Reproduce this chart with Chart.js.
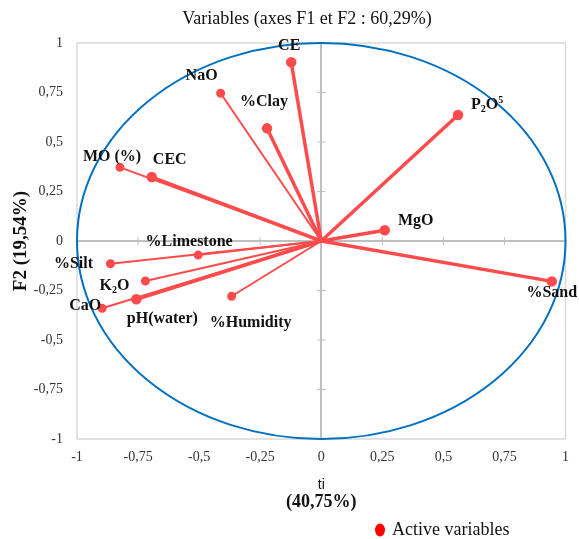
<!DOCTYPE html>
<html>
<head>
<meta charset="utf-8">
<script src="https://cdn.jsdelivr.net/npm/chart.js@4/dist/chart.umd.min.js"></script>
<style>
  html, body { margin: 0; padding: 0; background: #fff; }
  #wrap { width: 579px; height: 539px; }
</style>
</head>
<body>
<div id="wrap"><canvas id="pca"></canvas></div>
<script>
// correlation circle, variables on F1 / F2
var variables = ['CE', 'NaO', '%Clay', 'P_{2}O^{5}', 'MO (%)', 'CEC', 'MgO', '%Limestone', '%Silt', 'K_{2}O', 'pH(water)', 'CaO', '%Humidity', '%Sand'];
var f1 = [-0.123, -0.412, -0.222, 0.560, -0.824, -0.694, 0.260, -0.504, -0.863, -0.720, -0.757, -0.897, -0.367, 0.944];
var f2 = [0.903, 0.746, 0.569, 0.636, 0.372, 0.323, 0.054, -0.071, -0.115, -0.202, -0.294, -0.340, -0.279, -0.204];
var axisTicks = [-1, -0.75, -0.5, -0.25, 0, 0.25, 0.5, 0.75, 1];

// label offsets from the arrow tip (px) and line weights
var labelDx = [-2, -19, -3, 29, -8, 18, 31, -9, -37, -31, 26, -17, 19, 0];
var labelDy = [-16, -17, -26, -10, -10, -17, -9, -13, 0, 5, 20, -2, 27, 11];
var thick = ['CE', '%Clay', 'P_{2}O^{5}', 'CEC', 'MgO', '%Sand', 'pH(water)'];

var RED = '#ff4b4b';
var SERIF = '"Liberation Serif", "Times New Roman", serif';

function drawRich(ctx, str, cx, cy, size) {
  var parts = [];
  var re = /([_^])\{([^}]*)\}|([^_^]+)/g, m;
  while ((m = re.exec(str)) !== null) {
    if (m[3]) parts.push({ t: m[3], k: '' });
    else parts.push({ t: m[2], k: m[1] });
  }
  var total = 0;
  parts.forEach(function (p) {
    p.s = p.k ? Math.round(size * 0.65) : size;
    ctx.font = 'bold ' + p.s + 'px ' + SERIF;
    p.w = ctx.measureText(p.t).width;
    total += p.w;
  });
  var x = cx - total / 2;
  ctx.textAlign = 'left';
  ctx.textBaseline = 'middle';
  parts.forEach(function (p) {
    ctx.font = 'bold ' + p.s + 'px ' + SERIF;
    var y = cy;
    if (p.k === '_') y = cy + size * 0.28;
    if (p.k === '^') y = cy - size * 0.3;
    ctx.fillText(p.t, x, y);
    x += p.w;
  });
}

var datasets = variables.map(function (name, i) {
  return {
    label: name,
    data: [{ x: 0, y: 0 }, { x: f1[i], y: f2[i] }],
    showLine: true,
    borderColor: RED,
    backgroundColor: RED,
    borderWidth: thick.indexOf(name) >= 0 ? 3.5 : 2,
    pointRadius: [0, 3.5],
    pointHoverRadius: [0, 3.5]
  };
});

var circlePlugin = {
  id: 'circle',
  beforeDatasetsDraw: function (chart) {
    var ctx = chart.ctx, xs = chart.scales.x, ys = chart.scales.y;
    var cx = xs.getPixelForValue(0), cy = ys.getPixelForValue(0);
    ctx.save();
    // tick marks on the zero axes
    ctx.strokeStyle = '#bfbfbf';
    ctx.lineWidth = 1;
    axisTicks.forEach(function (v) {
      if (v === 0) return;
      var py = ys.getPixelForValue(v), px = xs.getPixelForValue(v);
      ctx.beginPath();
      ctx.moveTo(cx - 4, py); ctx.lineTo(cx + 4, py);
      ctx.moveTo(px, cy - 4); ctx.lineTo(px, cy + 4);
      ctx.stroke();
    });
    // unit circle
    var rx = xs.getPixelForValue(1) - cx;
    var ry = cy - ys.getPixelForValue(1);
    ctx.strokeStyle = '#0070c0';
    ctx.lineWidth = 2;
    ctx.beginPath();
    ctx.ellipse(cx, cy, rx, ry, 0, 0, Math.PI * 2);
    ctx.stroke();
    ctx.restore();
  },
  afterDatasetsDraw: function (chart) {
    var ctx = chart.ctx, xs = chart.scales.x, ys = chart.scales.y;
    ctx.save();
    ctx.fillStyle = '#111';
    variables.forEach(function (name, i) {
      var px = xs.getPixelForValue(f1[i]) + labelDx[i];
      var py = ys.getPixelForValue(f2[i]) + labelDy[i];
      drawRich(ctx, name, px, py, 16);
    });
    ctx.restore();
  },
  beforeDraw: function (chart) {
    var ctx = chart.ctx, a = chart.chartArea;
    ctx.save();
    ctx.strokeStyle = '#d9d9d9';
    ctx.lineWidth = 1.5;
    ctx.strokeRect(a.left, a.top, a.right - a.left, a.bottom - a.top);
    ctx.restore();
  },
  afterDraw: function (chart) {
    var ctx = chart.ctx;
    var mid = chart.scales.x.getPixelForValue(0);
    ctx.save();
    ctx.fillStyle = '#111';
    ctx.textAlign = 'center';
    ctx.textBaseline = 'middle';
    ctx.font = '18px ' + SERIF;
    ctx.fillText('Variables (axes F1 et F2 : 60,29%)', 307, 19);
    ctx.font = '14px "Liberation Sans", Arial, sans-serif';
    ctx.fillText('ti', mid, 485);
    ctx.font = 'bold 18px ' + SERIF;
    ctx.fillText('(40,75%)', mid, 502);
    ctx.save();
    ctx.translate(21, chart.scales.y.getPixelForValue(0));
    ctx.rotate(-Math.PI / 2);
    ctx.font = 'bold 19px ' + SERIF;
    ctx.fillText('F2 (19,54%)', 0, 0);
    ctx.restore();
    // legend
    ctx.fillStyle = '#ff0000';
    ctx.beginPath();
    ctx.ellipse(380, 530, 5, 6.5, 0, 0, Math.PI * 2);
    ctx.fill();
    ctx.fillStyle = '#111';
    ctx.textAlign = 'left';
    ctx.font = '18px ' + SERIF;
    ctx.fillText('Active variables', 392, 530);
    ctx.restore();
  }
};

function tickText(v) { return String(v).replace('.', ','); }

var zeroGrid = {
  drawTicks: false,
  lineWidth: 2,
  color: function (c) { return c.tick && c.tick.value === 0 ? '#bfbfbf' : 'rgba(0,0,0,0)'; }
};

new Chart(document.getElementById('pca'), {
  type: 'scatter',
  data: { datasets: datasets },
  options: {
    responsive: true,
    maintainAspectRatio: false,
    animation: false,
    layout: { padding: { top: 43, right: 10, left: 0, bottom: 0 } },
    plugins: { legend: { display: false }, title: { display: false }, tooltip: { enabled: false } },
    scales: {
      x: {
        type: 'linear', min: -1, max: 1,
        afterBuildTicks: function (s) { s.ticks = axisTicks.map(function (v) { return { value: v }; }); },
        afterFit: function (s) { s.height = 100; },
        grid: zeroGrid,
        border: { display: false },
        ticks: { padding: 10, color: '#333', font: { family: SERIF, size: 14 }, callback: tickText, maxRotation: 0 }
      },
      y: {
        type: 'linear', min: -1, max: 1,
        afterBuildTicks: function (s) { s.ticks = axisTicks.map(function (v) { return { value: v }; }); },
        afterFit: function (s) { s.width = 77; },
        grid: zeroGrid,
        border: { display: false },
        ticks: { padding: 14, color: '#333', font: { family: SERIF, size: 14 }, callback: tickText }
      }
    }
  },
  plugins: [circlePlugin]
});
</script>
</body>
</html>
